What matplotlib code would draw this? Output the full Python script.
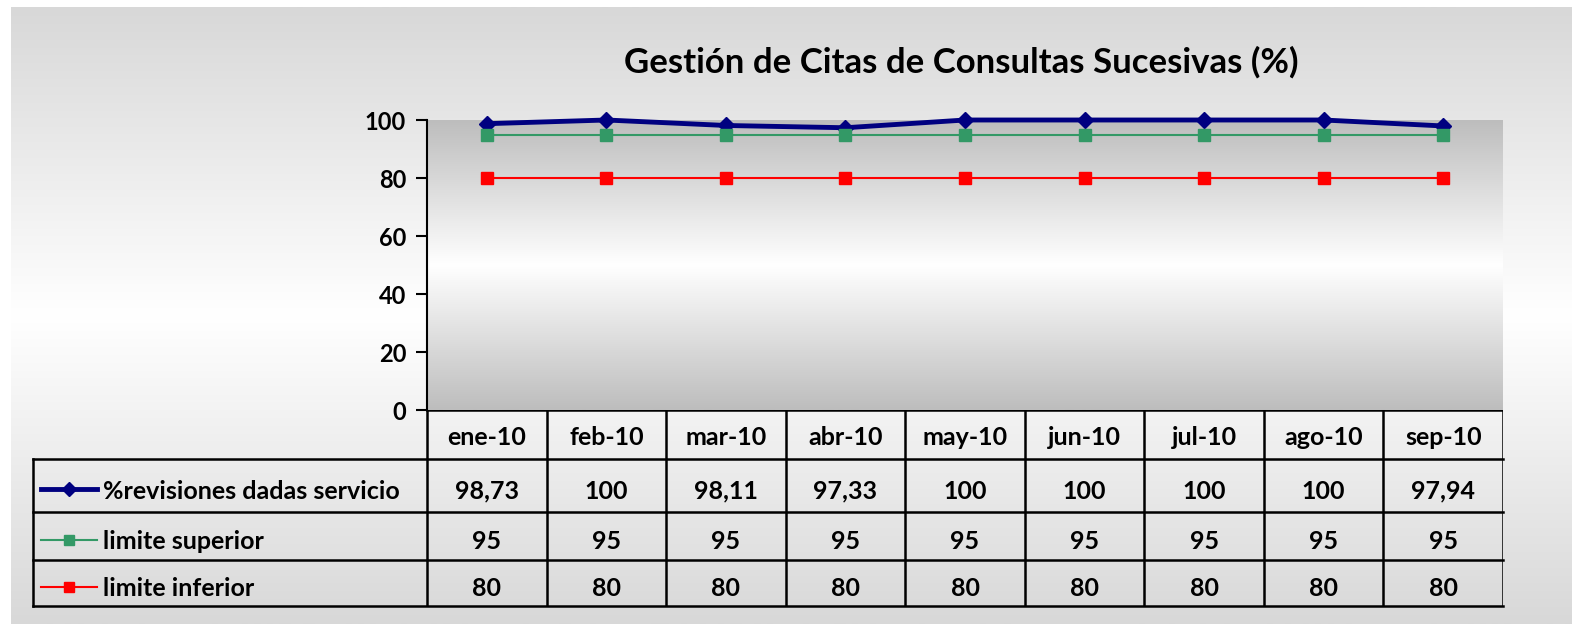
import numpy as np
import matplotlib.pyplot as plt
from matplotlib.colors import LinearSegmentedColormap

plt.rcParams['font.family'] = ['Lato', 'DejaVu Sans']
plt.rcParams['font.weight'] = 'bold'

months = ['ene-10', 'feb-10', 'mar-10', 'abr-10', 'may-10',
          'jun-10', 'jul-10', 'ago-10', 'sep-10']
revisiones = [98.73, 100, 98.11, 97.33, 100, 100, 100, 100, 97.94]
lim_sup = [95] * 9
lim_inf = [80] * 9
yticks = [0, 20, 40, 60, 80, 100]

series = [
    ('%revisiones dadas servicio', revisiones, dict(color='#000080', lw=3.5, marker='D', ms=8)),
    ('limite superior', lim_sup, dict(color='#339966', lw=1.5, marker='s', ms=8)),
    ('limite inferior', lim_inf, dict(color='#ff0000', lw=1.5, marker='s', ms=8)),
]


def fmt(v):
    if float(v).is_integer():
        return str(int(v))
    return f"{v:.2f}".replace('.', ',')


W, H = 1572, 624
fig = plt.figure(figsize=(W / 100, H / 100), dpi=100, facecolor='white')


def rect(x0, y0, x1, y1):
    return [x0 / W, 1 - y1 / H, (x1 - x0) / W, (y1 - y0) / H]


def vgrad(edge, mid, midpos=0.5):
    return LinearSegmentedColormap.from_list('g', [(0, edge), (midpos, mid), (1, edge)])


# figure background gradient
bg = fig.add_axes(rect(11, 7, W, H), zorder=-10)
bg.imshow(np.linspace(0, 1, 256).reshape(-1, 1), aspect='auto',
          cmap=vgrad('#d8d8d8', '#ffffff', 0.5), extent=[0, 1, 0, 1])
bg.axis('off')

# plot area
L, R, T, B = 427, 1503, 120, 410
ax = fig.add_axes(rect(L, T, R, B))
n = len(months)
ax.set_xlim(-0.5, n - 0.5)
ax.set_ylim(0, 100)
ax.imshow(np.linspace(0, 1, 256).reshape(-1, 1), aspect='auto',
          cmap=vgrad('#bdbdbd', '#ffffff', 0.5), extent=[-0.5, n - 0.5, 0, 100], zorder=0)
x = np.arange(n)
for name, vals, st in series:
    ax.plot(x, vals, color=st['color'], lw=st['lw'], marker=st['marker'],
            ms=st['ms'], markeredgecolor=st['color'], zorder=3, clip_on=False)
ax.set_yticks(yticks)
ax.set_yticklabels([str(t) for t in yticks], fontsize=17, fontweight='bold')
ax.tick_params(axis='y', length=8, width=1.5, pad=7)
ax.set_xticks([])
for s in ['top', 'right', 'bottom']:
    ax.spines[s].set_visible(False)
ax.spines['left'].set_linewidth(1.5)

fig.text(961 / W, 1 - 62 / H, 'Gestión de Citas de Consultas Sucesivas (%)',
         ha='center', va='center', fontsize=25, fontweight='bold')

# data table
TL, TT, TB = 33, 410, 606
colw = (R - L) / n
tab = fig.add_axes(rect(TL, TT, R, TB))
left_x = -0.5 - (L - TL) / colw
tab.set_xlim(left_x, n - 0.5)
tab.set_ylim(4, 0)
tab.axis('off')
row_edges = [0, 1.0, 2.08, 3.06, 4]
row_mid = [(row_edges[i] + row_edges[i + 1]) / 2 for i in range(4)]
text_y = [row_mid[0] + 0.06] + [m + 0.12 for m in row_mid[1:]]
lw = 1.8
# horizontal lines
tab.plot([-0.5, n - 0.5], [row_edges[0]] * 2, color='black', lw=lw)
for e in row_edges[1:]:
    tab.plot([left_x, n - 0.5], [e, e], color='black', lw=lw, clip_on=False)
# vertical lines
for i in range(n + 1):
    tab.plot([i - 0.5, i - 0.5], [0, 4], color='black', lw=lw)
tab.plot([left_x, left_x], [1.0, 4], color='black', lw=lw, clip_on=False)
for i, m in enumerate(months):
    tab.text(i, text_y[0], m, ha='center', va='center', fontsize=18, fontweight='bold')
for r, (name, vals, st) in enumerate(series):
    y = text_y[r + 1]
    for i, v in enumerate(vals):
        tab.text(i, y, fmt(v), ha='center', va='center', fontsize=18, fontweight='bold')
    x0 = left_x + 8 / colw
    x1 = left_x + 64 / colw
    ky = row_mid[r + 1] + 0.08
    tab.plot([x0, x1], [ky, ky], color=st['color'], lw=st['lw'])
    tab.plot([(x0 + x1) / 2], [ky], marker=st['marker'], color=st['color'], ms=7)
    tab.text(left_x + 70 / colw, y, name, ha='left', va='center', fontsize=18, fontweight='bold')

fig.savefig('out.png', dpi=100, facecolor='white')
